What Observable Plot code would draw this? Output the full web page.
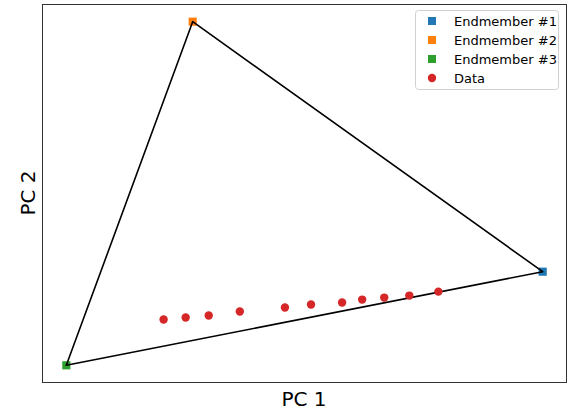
<!DOCTYPE html>
<html>
<head>
<meta charset="utf-8">
<script src="https://cdn.jsdelivr.net/npm/d3@7"></script>
<script src="https://cdn.jsdelivr.net/npm/@observablehq/plot@0.6"></script>
<style>
  html, body { margin: 0; padding: 0; background: #fff; }
  #chart { position: relative; width: 578px; height: 412px; }
  svg { font-family: "DejaVu Sans", sans-serif; }
</style>
</head>
<body>
<div id="chart"></div>
<script>
// Endmembers (PC1, PC2)
const endmemberNames = ["Endmember #1", "Endmember #2", "Endmember #3"];
const endmemberPC1 = [4.75, 1.26, 0.00];
const endmemberPC2 = [0.94, 3.45, 0.00];
const endmemberColors = ["#1f77b4", "#ff7f0e", "#2ca02c"];

// Data points (PC1, PC2)
const dataPC1 = [0.97, 1.19, 1.42, 1.73, 2.18, 2.44, 2.75, 2.95, 3.17, 3.42, 3.71];
const dataPC2 = [0.46, 0.48, 0.50, 0.54, 0.58, 0.61, 0.63, 0.66, 0.68, 0.70, 0.74];
const dataColor = "#d62728";

const endmembers = endmemberNames.map((n, i) => ({name: n, x: endmemberPC1[i], y: endmemberPC2[i], color: endmemberColors[i]}));
const data = dataPC1.map((x, i) => ({x, y: dataPC2[i]}));
const triangle = [...endmembers, endmembers[0]];

function padded(vals) {
  const lo = d3.min(vals), hi = d3.max(vals), p = (hi - lo) * 0.05;
  return [lo - p, hi + p];
}
const xAll = [...endmemberPC1, ...dataPC1];
const yAll = [...endmemberPC2, ...dataPC2];

const W = 578, H = 412;
const mL = 42, mR = 12, mT = 4, mB = 30;

const chart = Plot.plot({
  width: W,
  height: H,
  marginLeft: mL,
  marginRight: mR,
  marginTop: mT,
  marginBottom: mB,
  style: {fontFamily: "DejaVu Sans, sans-serif", background: "#fff"},
  x: {domain: padded(xAll), axis: null},
  y: {domain: padded(yAll), axis: null},
  marks: [
    Plot.dot(endmembers, {x: "x", y: "y", symbol: "square", r: 4.6, fill: "color", stroke: "none"}),
    Plot.line(triangle, {x: "x", y: "y", stroke: "#000", strokeWidth: 1.6}),
    Plot.dot(data, {x: "x", y: "y", r: 4.2, fill: dataColor, stroke: "none"}),
    Plot.frame({stroke: "#333", strokeWidth: 1})
  ]
});
document.getElementById("chart").appendChild(chart);

const svg = d3.select(chart);
// Axis labels
svg.append("text").attr("x", mL + (W - mL - mR) / 2).attr("y", H - 6)
  .attr("text-anchor", "middle").attr("font-size", 20).attr("fill", "#000").text("PC 1");
svg.append("text").attr("transform", `translate(35,${mT + (H - mT - mB) / 2}) rotate(-90)`)
  .attr("text-anchor", "middle").attr("font-size", 20).attr("fill", "#000").text("PC 2");

// Legend
const lg = svg.append("g").attr("transform", `translate(${W - mR - 151},${mT + 6})`);
lg.append("rect").attr("x", 0.5).attr("y", 0.5).attr("width", 143).attr("height", 79)
  .attr("rx", 3).attr("fill", "#fff").attr("fill-opacity", 0.8).attr("stroke", "#d0d0d0");
const items = [
  ...endmemberNames.map((n, i) => ({label: n, color: endmemberColors[i], sym: "square"})),
  {label: "Data", color: dataColor, sym: "circle"}
];
items.forEach((it, i) => {
  const cy = 11 + i * 19;
  if (it.sym === "square") {
    lg.append("rect").attr("x", 17 - 4).attr("y", cy - 4).attr("width", 8).attr("height", 8).attr("fill", it.color);
  } else {
    lg.append("circle").attr("cx", 17).attr("cy", cy).attr("r", 4.2).attr("fill", it.color);
  }
  lg.append("text").attr("x", 39).attr("y", cy).attr("dy", "0.35em")
    .attr("text-anchor", "start")
    .attr("font-size", 13).attr("fill", "#000").text(it.label);
});
</script>
</body>
</html>
